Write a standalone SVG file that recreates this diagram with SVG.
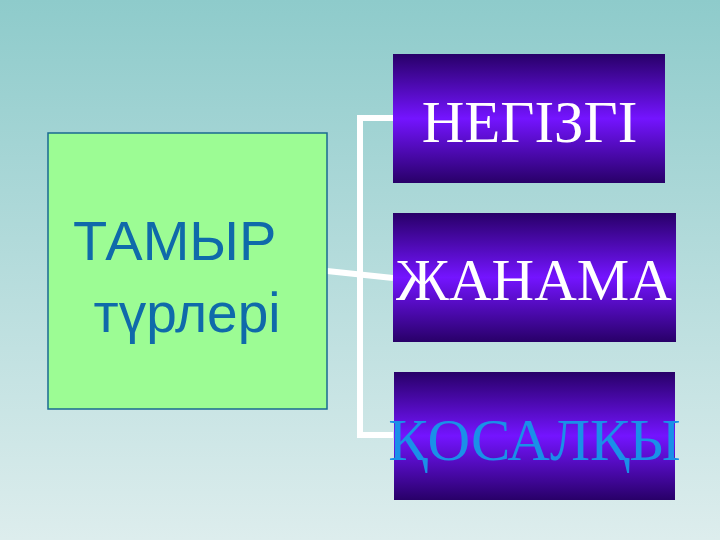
<svg xmlns="http://www.w3.org/2000/svg" width="720" height="540" viewBox="0 0 720 540">
<defs>
<linearGradient id="bg" x1="0" y1="0" x2="0" y2="1">
<stop offset="0" stop-color="#8ecbcb"/>
<stop offset="1" stop-color="#ddeded"/>
</linearGradient>
<linearGradient id="box" x1="0" y1="0" x2="0" y2="1">
<stop offset="0" stop-color="#280068"/>
<stop offset="0.5" stop-color="#7414ff"/>
<stop offset="1" stop-color="#280068"/>
</linearGradient>
<style>
.bx{fill:url(#box);}
.lbl{font-family:"Liberation Serif","Times New Roman",serif;font-size:59px;text-anchor:middle;}
.conn{stroke:#ffffff;stroke-width:6;fill:none;}
</style>
</defs>
<rect x="0" y="0" width="720" height="540" fill="url(#bg)"/>
<g id="connectors">
<polyline class="conn" points="393,118 360,118 360,435 393,435"/>
<line class="conn" x1="327" y1="271" x2="393" y2="278"/>
</g>
<g id="root">
<rect x="48" y="133" width="279" height="276" fill="#9cfc94" stroke="#1a6a90" stroke-width="1.5"/>
<text x="73" y="260" font-family="Liberation Sans, Arial, sans-serif" font-size="56" fill="#0f6aaa">ТАМЫР</text>
<text x="187" y="332" font-family="Liberation Sans, Arial, sans-serif" font-size="55" fill="#0f6aaa" text-anchor="middle">түрлері</text>
</g>
<g id="negizgi">
<rect class="bx" x="393" y="54" width="272" height="129"/>
<text class="lbl" x="529.5" y="142" fill="#ffffff">НЕГІЗГІ</text>
</g>
<g id="zhanama">
<rect class="bx" x="393" y="213" width="283" height="129"/>
<text class="lbl" x="534" y="300" fill="#ffffff">ЖАНАМА</text>
</g>
<g id="kosalky">
<rect class="bx" x="394" y="372" width="281" height="128"/>
<text class="lbl" x="534.5" y="460" fill="#1a90e8" font-size="61">ҚОСАЛҚЫ</text>
</g>
</svg>
